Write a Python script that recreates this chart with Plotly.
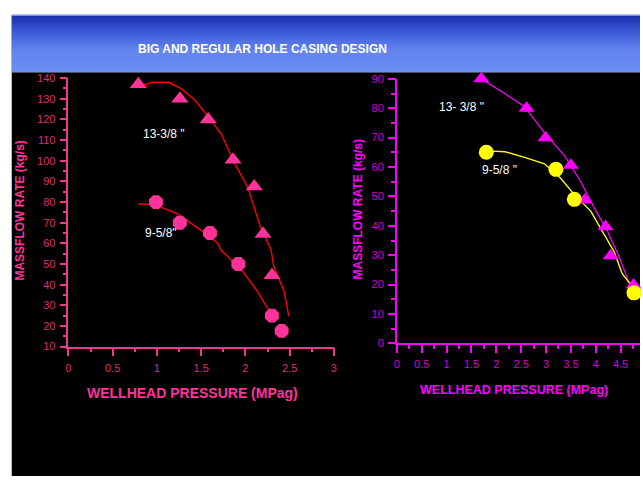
import plotly.graph_objects as go

W, H = 643, 482

# ---- 13-3/8" and 9-5/8" casing, big-hole chart (left) ----
big_pres_1338 = [0.79, 1.26, 1.58, 1.86, 2.10, 2.20, 2.30]
big_flow_1338 = [137, 130, 120, 100.5, 87.5, 64.5, 44.5]
big_fit_pres_1338 = [0.79, 0.95, 1.13, 1.28, 1.43, 1.58, 1.73, 1.87, 2.03, 2.17, 2.29, 2.32, 2.44, 2.49]
big_fit_flow_1338 = [136, 138, 138, 134.8, 129.3, 121.4, 112.8, 99.4, 86.8, 67.9, 56.9, 49, 36.5, 24.7]

big_pres_958 = [0.99, 1.26, 1.60, 1.92, 2.30, 2.41]
big_flow_958 = [80, 70, 65, 50, 25, 17.6]
big_fit_pres_958 = [0.79, 0.99, 1.24, 1.50, 1.69, 1.72, 1.95, 2.14, 2.25, 2.36]
big_fit_flow_958 = [79.2, 78.5, 74.2, 66.3, 60, 56.9, 47.5, 36.5, 28.6, 23.1]

# ---- regular-hole chart (right) ----
reg_pres_1338 = [1.70, 2.61, 2.99, 3.50, 3.78, 4.20, 4.30, 4.76]
reg_flow_1338 = [90, 80, 70, 60.6, 48.8, 39.7, 29.8, 19.9]
reg_fit_pres_1338 = [1.70, 2.18, 2.57, 2.97, 3.37, 3.70, 3.97, 4.23, 4.47, 4.60, 4.70, 4.80]
reg_fit_flow_1338 = [89.9, 84.9, 80.5, 71.6, 63.9, 55, 46.1, 38.4, 29.5, 23.8, 19.4, 16]

reg_pres_958 = [1.80, 3.20, 3.57, 4.77]
reg_flow_958 = [65, 59.2, 49, 17.2]
reg_fit_pres_958 = [1.80, 2.18, 2.57, 2.97, 3.30, 3.57, 3.90, 4.17, 4.37, 4.53, 4.73, 4.80]
reg_fit_flow_958 = [65.5, 65.2, 63.3, 61.1, 56.1, 50.6, 45, 37.3, 31.2, 23.8, 19.4, 16.5]

TITLE = "BIG AND REGULAR HOLE CASING DESIGN"
X_TITLE = "WELLHEAD PRESSURE (MPag)"
Y_TITLE = "MASSFLOW RATE (kg/s)"


def px(x):
    return x / W


def py(y):
    return 1 - y / H


LEFT_AXIS = "#ee3a8e"
LEFT_TEXT = "#dc2c7c"
RIGHT_AXIS = "#ff00ff"
RIGHT_TEXT = "#d400d4"

fig = go.Figure()

# left chart traces
fig.add_trace(go.Scatter(x=big_fit_pres_1338, y=big_fit_flow_1338, mode="lines",
                         line=dict(color="#ff0000", width=1.4), xaxis="x", yaxis="y"))
fig.add_trace(go.Scatter(x=big_fit_pres_958, y=big_fit_flow_958, mode="lines",
                         line=dict(color="#ff0000", width=1.4), xaxis="x", yaxis="y"))
fig.add_trace(go.Scatter(x=big_pres_1338, y=big_flow_1338, mode="markers", cliponaxis=False,
                         marker=dict(symbol="triangle-up", size=15, color="#ff3399"),
                         xaxis="x", yaxis="y"))
fig.add_trace(go.Scatter(x=big_pres_958, y=big_flow_958, mode="markers", cliponaxis=False,
                         marker=dict(symbol="octagon", size=15, color="#ff3399"),
                         xaxis="x", yaxis="y"))

# right chart traces
fig.add_trace(go.Scatter(x=reg_fit_pres_1338, y=reg_fit_flow_1338, mode="lines",
                         line=dict(color="#ff00ff", width=1.2), xaxis="x2", yaxis="y2"))
fig.add_trace(go.Scatter(x=reg_fit_pres_958, y=reg_fit_flow_958, mode="lines",
                         line=dict(color="#ffff00", width=1.4), xaxis="x2", yaxis="y2"))
fig.add_trace(go.Scatter(x=reg_pres_1338, y=reg_flow_1338, mode="markers", cliponaxis=False,
                         marker=dict(symbol="triangle-up", size=14, color="#ff00ff"),
                         xaxis="x2", yaxis="y2"))
fig.add_trace(go.Scatter(x=reg_pres_958, y=reg_flow_958, mode="markers", cliponaxis=False,
                         marker=dict(symbol="circle", size=15, color="#ffff00"),
                         xaxis="x2", yaxis="y2"))

tick_font_l = dict(family="Arial", size=11, color=LEFT_TEXT)
tick_font_r = dict(family="Arial", size=11, color=RIGHT_TEXT)


def xaxis(color, font, rng, domain, anchor):
    return dict(range=rng, domain=domain, anchor=anchor, dtick=0.5, tick0=0,
                showgrid=False, zeroline=False, showline=True, linecolor=color,
                linewidth=1.5, ticks="outside", ticklen=8, tickwidth=1.5,
                tickcolor=color, tickfont=font, ticklabelstandoff=2,
                minor=dict(dtick=0.25, ticks="outside", ticklen=4,
                           tickcolor=color, tickwidth=1.5))


def yaxis(color, font, rng, domain, anchor, tick0):
    return dict(range=rng, domain=domain, anchor=anchor, dtick=10, tick0=tick0,
                showgrid=False, zeroline=False, showline=True, linecolor=color,
                linewidth=1.5, ticks="outside", ticklen=7, tickwidth=1.5,
                tickcolor=color, tickfont=font, ticklabelstandoff=2,
                minor=dict(dtick=5, ticks="outside", ticklen=4,
                           tickcolor=color, tickwidth=1.5))


shapes = [
    # black panel behind both charts
    dict(type="rect", xref="paper", yref="paper", x0=px(9), x1=1.0, y0=0, y1=py(68),
         fillcolor="#000000", line=dict(width=0), layer="below"),
    dict(type="line", xref="paper", yref="paper", x0=px(8.5), x1=px(8.5), y0=0, y1=py(9),
         line=dict(color="#b8b8b8", width=1), layer="below"),
]

# header band: vertical blue gradient built from overlapping strips
top, bottom = 9, 68
stops = [(0.0, (26, 44, 170)), (0.3, (60, 90, 215)), (0.6, (98, 130, 238)), (1.0, (108, 142, 246))]


def grad(t):
    for (t0, c0), (t1, c1) in zip(stops[:-1], stops[1:]):
        if t <= t1:
            f = (t - t0) / (t1 - t0)
            return tuple(int(round(a + (b - a) * f)) for a, b in zip(c0, c1))
    return stops[-1][1]


n = 30
step = (bottom - top) / n
for i in range(n):
    r, g, b = grad((i + 0.5) / n)
    y_lo = min(bottom, top + (i + 1) * step + 1.5)
    shapes.append(dict(type="rect", xref="paper", yref="paper",
                       x0=px(9), x1=1.0, y0=py(y_lo), y1=py(top + i * step),
                       fillcolor=f"rgb({r},{g},{b})", line=dict(width=0), layer="below"))
shapes.append(dict(type="line", xref="paper", yref="paper", x0=px(9), x1=1.0,
                   y0=py(9.5), y1=py(9.5), line=dict(color="#9fb2f2", width=1), layer="below"))

annotations = [
    dict(text=f"<b>{TITLE}</b>", xref="paper", yref="paper", x=px(261.5), y=py(44),
         showarrow=False, font=dict(family="Arial", size=12, color="white"),
         xanchor="center", yanchor="middle"),
    # axis titles, left chart
    dict(text=f"<b>{X_TITLE}</b>", xref="paper", yref="paper", x=px(191), y=py(397),
         showarrow=False, font=dict(family="Arial", size=14, color="#ff3399"),
         xanchor="center", yanchor="middle"),
    dict(text=f"<b>{Y_TITLE}</b>", xref="paper", yref="paper", x=px(17), y=py(210),
         showarrow=False, textangle=-90, font=dict(family="Arial", size=12, color="#ff3399"),
         xanchor="center", yanchor="middle"),
    # axis titles, right chart
    dict(text=f"<b>{X_TITLE}</b>", xref="paper", yref="paper", x=px(516), y=py(394),
         showarrow=False, font=dict(family="Arial", size=12.5, color="#ff00ff"),
         xanchor="center", yanchor="middle"),
    dict(text=f"<b>{Y_TITLE}</b>", xref="paper", yref="paper", x=px(358), y=py(209),
         showarrow=False, textangle=-90, font=dict(family="Arial", size=12, color="#ff00ff"),
         xanchor="center", yanchor="middle"),
    # series labels
    dict(text='13-3/8 "', xref="x", yref="y", x=1.08, y=113, showarrow=False,
         font=dict(family="Arial", size=12, color="white")),
    dict(text='9-5/8"', xref="x", yref="y", x=1.05, y=65, showarrow=False,
         font=dict(family="Arial", size=12, color="white")),
    dict(text='13- 3/8 "', xref="x2", yref="y2", x=1.30, y=80.3, showarrow=False,
         font=dict(family="Arial", size=12, color="white")),
    dict(text='9-5/8 "', xref="x2", yref="y2", x=2.07, y=59, showarrow=False,
         font=dict(family="Arial", size=12, color="white")),
]

fig.update_layout(
    width=W, height=H,
    margin=dict(l=0, r=0, t=0, b=0),
    paper_bgcolor="white",
    plot_bgcolor="rgba(0,0,0,0)",
    showlegend=False,
    xaxis=xaxis(LEFT_AXIS, tick_font_l, [0, 3], [px(66), px(334)], "y"),
    yaxis=yaxis(LEFT_AXIS, tick_font_l, [10, 140], [py(349.3), py(74)], "x", 10),
    xaxis2=xaxis(RIGHT_AXIS, tick_font_r, [0, (643 - 397.5) / 50.2], [px(397.5), 1.0], "y2"),
    yaxis2=yaxis(RIGHT_AXIS, tick_font_r, [0, 90], [py(346), py(74.7)], "x2", 0),
    shapes=shapes,
    annotations=annotations,
)

fig.write_html("out.html")
